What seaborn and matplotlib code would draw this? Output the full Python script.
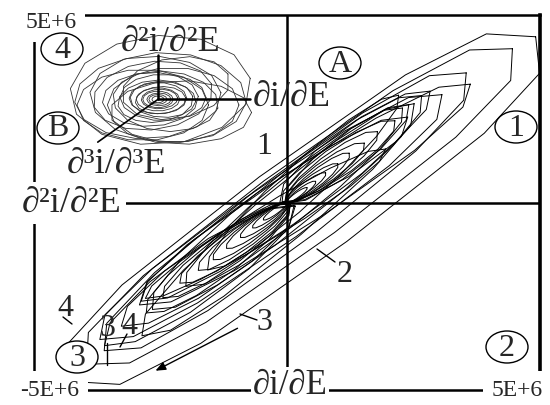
import numpy as np
import pandas as pd
import matplotlib
matplotlib.use("Agg")
import matplotlib.pyplot as plt
import seaborn as sns
from matplotlib.patches import Ellipse
from matplotlib.lines import Line2D

# ---------------- data (units of 1E+6) ----------------
# main family of loops (around origin); loop params in the frame rotated 45 deg
main_cu  = [0.10, 0.10, -0.20, -0.50, 0.00, -0.30, 0.20, 0.40, -0.45,
            2.00, 1.75, 1.50, 1.30, 1.10, 0.90, 0.72, 0.55, 0.40, 0.28,
            -2.60, -2.30, -2.00, -1.75, -1.50, -1.25, -1.05, -0.85, -0.65, -0.48, -0.33,
            0.60, -0.70]
main_cv  = [-0.35, -0.25, -0.15, -0.05, 0.00, 0.05, 0.00, -0.10, -0.20,
            0.10, 0.08, 0.06, 0.05, 0.04, 0.03, 0.02, 0.02, 0.00, 0.00,
            -0.15, -0.10, -0.08, -0.06, -0.05, -0.04, -0.03, -0.02, -0.01, 0.00, 0.00,
            0.15, -0.10]
main_a   = [6.50, 5.95, 5.15, 4.70, 3.90, 3.60, 3.20, 4.40, 4.10,
            2.10, 1.80, 1.55, 1.30, 1.10, 0.90, 0.72, 0.55, 0.40, 0.28,
            2.65, 2.35, 2.05, 1.78, 1.52, 1.27, 1.06, 0.86, 0.66, 0.48, 0.33,
            3.00, 3.10]
main_b   = [1.22, 0.98, 0.82, 0.72, 0.62, 0.55, 0.50, 0.65, 0.60,
            0.50, 0.42, 0.36, 0.30, 0.25, 0.20, 0.16, 0.12, 0.09, 0.06,
            0.60, 0.52, 0.45, 0.38, 0.32, 0.27, 0.22, 0.18, 0.14, 0.10, 0.07,
            0.45, 0.40]
main_rot = [0, 0, 1, -1, 2, -2, 3, -3, 4,
            0, 2, -1, 1, 0, 2, 0, 0, 0, 0,
            0, -2, 1, 0, -1, 0, 1, 0, 0, 0, 0,
            6, -5]
main_pw  = [2.8, 2.6, 2.5, 2.4, 2.2, 2.2, 2.2, 2.3, 2.3,
            2.0, 2.0, 2.0, 2.0, 2.0, 2.0, 2.0, 2.0, 2.0, 2.0,
            2.0, 2.0, 2.0, 2.0, 2.0, 2.0, 2.0, 2.0, 2.0, 2.0, 2.0,
            2.0, 2.0]
main_nv  = [12, 12, 12, 12, 14, 12, 14, 12, 12,
            10, 10, 12, 12, 12, 14, 14, 14, 14, 14,
            10, 10, 12, 12, 12, 12, 14, 14, 14, 14, 14,
            14, 14]

# family B (upper-left); centre and ellipse params in data coords
B_centre = (-2.55, 2.75)
B_dx  = [0.05, 0.20, -0.20, 0.30, -0.10, 0.15, -0.15, 0.10, -0.05, 0.10, 0.00, 0.05, 0.00, 0.03, 0.00, 0.02, 0.00, 0.00, 0.45, -0.30, 0.35]
B_dy  = [0.25, 0.05, 0.05, -0.15, 0.10, -0.05, 0.00, 0.05, -0.05, 0.00, 0.03, -0.02, 0.00, 0.01, 0.00, 0.00, 0.00, 0.00, -0.35, -0.15, 0.30]
B_rx  = [1.80, 1.55, 1.45, 1.30, 1.20, 1.05, 0.95, 0.85, 0.75, 0.65, 0.57, 0.50, 0.43, 0.36, 0.30, 0.24, 0.18, 0.12, 1.40, 1.30, 1.10]
B_ry  = [1.45, 1.20, 1.10, 1.00, 0.90, 0.80, 0.72, 0.62, 0.56, 0.48, 0.42, 0.36, 0.31, 0.26, 0.22, 0.17, 0.13, 0.09, 0.85, 0.95, 0.80]
B_rot = [10, -5, 5, 0, 15, -10, 5, 0, 10, -5, 0, 8, 0, 5, 0, 0, 0, 0, 0, 0, 20]
B_nv  = [13, 14, 14, 14, 14, 14, 14, 14, 14, 14, 14, 14, 14, 14, 14, 12, 12, 12, 13, 14, 12]

SCALE = 1e6


def sgn_pow(z, e):
    return np.sign(z) * np.abs(z) ** e


def loop(cx, cy, a, b, ang, n, pw=2.0):
    t = np.linspace(0, 2 * np.pi, n + 1)
    u, v = a * sgn_pow(np.cos(t), 2 / pw), b * sgn_pow(np.sin(t), 2 / pw)
    th = np.deg2rad(ang)
    return cx + u * np.cos(th) - v * np.sin(th), cy + u * np.sin(th) + v * np.cos(th)


rows = []
c45 = np.cos(np.pi / 4)
for i in range(len(main_cu)):
    cx = (main_cu[i] - main_cv[i]) * c45
    cy = (main_cu[i] + main_cv[i]) * c45
    x, y = loop(cx, cy, main_a[i], main_b[i], 45 + main_rot[i], main_nv[i], main_pw[i])
    rows += [dict(group="main", loop=f"m{i}", k=k, x=xx * SCALE, y=yy * SCALE)
             for k, (xx, yy) in enumerate(zip(x, y))]
for i in range(len(B_dx)):
    x, y = loop(B_centre[0] + B_dx[i], B_centre[1] + B_dy[i], B_rx[i], B_ry[i], B_rot[i], B_nv[i])
    rows += [dict(group="B", loop=f"b{i}", k=k, x=xx * SCALE, y=yy * SCALE)
             for k, (xx, yy) in enumerate(zip(x, y))]
df = pd.DataFrame(rows)

# ---------------- plot ----------------
sns.set_style("white")
plt.rcParams["font.family"] = ["Liberation Serif", "DejaVu Serif"]

fig = plt.figure(figsize=(5.5, 4.05), dpi=100)
ax = fig.add_axes([34 / 550, 15 / 405, 506 / 550, 375 / 405])

sns.lineplot(data=df[df.group == "main"], x="x", y="y", units="loop", estimator=None,
             sort=False, color="black", lw=0.7, ax=ax, legend=False)
sns.lineplot(data=df[df.group == "B"], x="x", y="y", units="loop", estimator=None,
             sort=False, color="#333333", lw=0.6, ax=ax, legend=False)

ax.set_xlim(-5 * SCALE, 5 * SCALE)
ax.set_ylim(-5 * SCALE, 5 * SCALE)
ax.set_xticks([]); ax.set_yticks([])
ax.set_xlabel(""); ax.set_ylabel("")
for s in ax.spines.values():
    s.set_visible(True); s.set_color("black"); s.set_linewidth(1.8)
ax.spines["right"].set_linewidth(2.6)

# main cross-hair
ax.axvline(0, color="black", lw=1.8)
ax.axhline(0, color="black", lw=1.8)
# B cross-hair
bx, by = B_centre[0] * SCALE, B_centre[1] * SCALE
ax.plot([bx, bx], [by, 3.93 * SCALE], color="black", lw=1.8)
ax.plot([bx, -0.73 * SCALE], [by, by], color="black", lw=1.8)
ax.plot([bx, -3.74 * SCALE], [by, 1.61 * SCALE], color="black", lw=1.2)


def P(x, y):
    return (x / 550, 1 - y / 405)


white = dict(facecolor="white", edgecolor="none", pad=3)
wbig = dict(facecolor="white", edgecolor="none", pad=6)

# axis range labels
fig.text(*P(51, 23), "5E+6", fontsize=17, ha="center", va="center", bbox=wbig)
fig.text(*P(50, 390), "-5E+6", fontsize=17, ha="center", va="center", bbox=wbig)
fig.text(*P(517, 390), "5E+6", fontsize=17, ha="center", va="center", bbox=wbig)

# axis names
fig.text(*P(72, 203), "∂²i/∂²E", fontsize=26, ha="center", va="center", bbox=white)
fig.text(*P(290, 385), "∂i/∂E", fontsize=25, ha="center", va="center",
         bbox=dict(facecolor="white", edgecolor="none", pad=1))
fig.text(*P(171, 42), "∂²i/∂²E", fontsize=26, ha="center", va="center")
fig.text(*P(292, 97), "∂i/∂E", fontsize=26, ha="center", va="center")
fig.text(*P(117, 164), "∂³i/∂³E", fontsize=26, ha="center", va="center")

# circled markers
for cx, cy, t in [(62, 49, "4"), (58, 128, "B"), (340, 63, "A"), (516, 127, "1"),
                  (507, 347, "2"), (77, 357, "3")]:
    fig.add_artist(Ellipse(P(cx, cy), 42 / 550, 32 / 405, transform=fig.transFigure,
                           facecolor="white", edgecolor="black", lw=1.0, zorder=5))
    fig.text(*P(cx, cy + 1), t, fontsize=23, ha="center", va="center", zorder=6)

# curve labels with pointer lines
for x, y, t in [(264, 146, "1"), (345, 275, "2"), (264, 322, "3"), (65, 308, "4"),
                (107, 329, "3"), (129, 327, "4")]:
    fig.text(*P(x, y), t, fontsize=23, ha="center", va="center")
for (x0, y0), (x1, y1) in [((317, 249), (335, 262)), ((240, 314), (257, 320)),
                           ((63, 317), (72, 324)), ((107, 343), (107, 365)),
                           ((127, 334), (120, 347))]:
    a0, b0 = P(x0, y0); a1, b1 = P(x1, y1)
    fig.add_artist(Line2D([a0, a1], [b0, b1], transform=fig.transFigure, color="black", lw=1.0))

ax.annotate("", xy=P(153, 372), xytext=P(240, 327), xycoords="figure fraction",
            textcoords="figure fraction",
            arrowprops=dict(arrowstyle="-|>,head_length=0.6,head_width=0.25", color="black", lw=1.0))

fig.savefig("out.png", dpi=100)
